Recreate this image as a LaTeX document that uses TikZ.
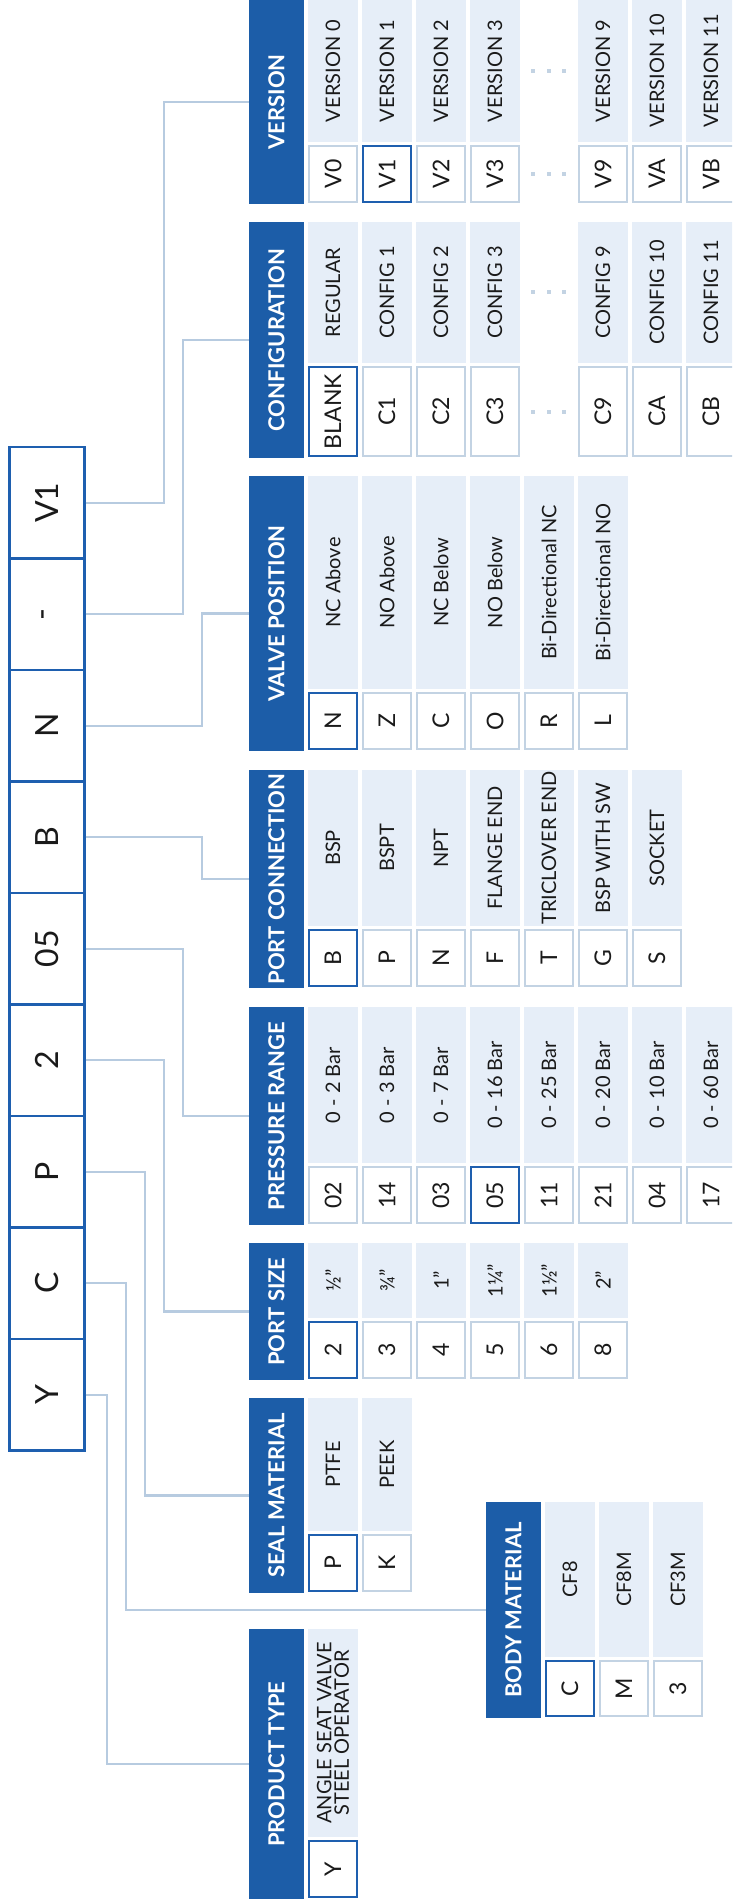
\documentclass[tikz,border=0pt]{standalone}
\usepackage{fontspec}
\setmainfont{Lato}
\usepackage{graphicx}

\definecolor{headblue}{HTML}{1C5DA8}
\definecolor{cellblue}{HTML}{E6EEF8}
\definecolor{boxgrey}{HTML}{C3D3E3}
\definecolor{pickblue}{HTML}{1E5FAF}
\definecolor{linkblue}{HTML}{B7CBE0}
\definecolor{txtdark}{HTML}{1A1A1A}

\newcommand\vtext[1]{\rotatebox{90}{#1}}

\tikzset{
	headbox/.style={fill=headblue, text=white, inner sep=0pt,
		font=\fontsize{22}{24}\selectfont\bfseries},
	descbox/.style={fill=cellblue, text=txtdark, inner sep=0pt,
		font=\fontsize{20}{22}\selectfont},
	codebox/.style={draw=boxgrey, line width=2pt, fill=white, text=txtdark,
		inner sep=0pt, font=\fontsize{23}{25}\selectfont},
	pickbox/.style={codebox, draw=pickblue},
	mainbox/.style={draw=pickblue, line width=2.5pt, text=txtdark, inner sep=0pt,
		minimum width=75pt, minimum height=111.5pt, font=\fontsize{32}{34}\selectfont},
	linkline/.style={draw=linkblue, line width=2.2pt},
}

% name, header x, top, split, bottom, title, items
\newcommand\codetable[7]{%
	\node[headbox, minimum width=55pt, minimum height={(#5-#3)*1pt}] (#1)
		at ({#2+27.5},{(#3+#5)/2}) {\vtext{#6}};
	\foreach \i/\c/\d/\s in {#7}{%
		\node[descbox, minimum width=50pt, minimum height={(#4-1-#3)*1pt}] (#1-d\i)
			at ({#2+84+54*\i},{(#3+#4-1)/2}) {\vtext{\d}};
		\node[\s, minimum width=48pt, minimum height={(#5-#4-5)*1pt}] (#1-c\i)
			at ({#2+84+54*\i},{(#4+#5+1)/2}) {\vtext{\c}};
	}%
}

\begin{document}
\begin{tikzpicture}[x=1pt,y=-1pt]
	\clip (0,0) rectangle (732,1902);
	% ordering code
	\foreach \t [count=\k] in {V1,-,N,B,05,2,P,C,Y}
		\node[mainbox] (m\k) at (46.75,{447+111.5*(\k-0.5)}) {\vtext{\t}};
	% tables
	\codetable{ver}{249}{0}{143}{204}{VERSION}{0/V0/VERSION 0/codebox, 1/V1/VERSION 1/pickbox,
		2/V2/VERSION 2/codebox, 3/V3/VERSION 3/codebox, 5/V9/VERSION 9/codebox,
		6/VA/VERSION 10/codebox, 7/VB/VERSION 11/codebox}
	\codetable{conf}{249}{222}{364}{458}{CONFIGURATION}{0/BLANK/REGULAR/pickbox,
		1/C1/CONFIG 1/codebox, 2/C2/CONFIG 2/codebox, 3/C3/CONFIG 3/codebox,
		5/C9/CONFIG 9/codebox, 6/CA/CONFIG 10/codebox, 7/CB/CONFIG 11/codebox}
	\codetable{valve}{249}{476}{690}{751}{VALVE POSITION}{0/N/NC Above/pickbox,
		1/Z/NO Above/codebox, 2/C/NC Below/codebox, 3/O/NO Below/codebox,
		4/R/Bi-Directional NC/codebox, 5/L/Bi-Directional NO/codebox}
	\codetable{conn}{249}{770}{927}{988}{PORT CONNECTION}{0/B/BSP/pickbox,
		1/P/BSPT/codebox, 2/N/NPT/codebox, 3/F/FLANGE END/codebox,
		4/T/TRICLOVER END/codebox, 5/G/BSP WITH SW/codebox, 6/S/SOCKET/codebox}
	\codetable{press}{249}{1007}{1164}{1225}{PRESSURE RANGE}{0/02/0 - 2 Bar/codebox,
		1/14/0 - 3 Bar/codebox, 2/03/0 - 7 Bar/codebox, 3/05/0 - 16 Bar/pickbox,
		4/11/0 - 25 Bar/codebox, 5/21/0 - 20 Bar/codebox, 6/04/0 - 10 Bar/codebox,
		7/17/0 - 60 Bar/codebox}
	\codetable{psize}{249}{1243}{1319}{1380}{PORT SIZE}{0/2/½”/pickbox, 1/3/¾”/codebox,
		2/4/1”/codebox, 3/5/1¼”/codebox, 4/6/1½”/codebox, 5/8/2”/codebox}
	\codetable{seal}{249}{1398}{1532}{1593}{SEAL MATERIAL}{0/P/PTFE/pickbox, 1/K/PEEK/codebox}
	\codetable{body}{486}{1502}{1658}{1718}{BODY MATERIAL}{0/C/CF8/pickbox,
		1/M/CF8M/codebox, 2/3/CF3M/codebox}
	\codetable{prod}{249}{1629}{1838}{1899}{PRODUCT TYPE}{%
		0/Y/{\shortstack{ANGLE SEAT VALVE\\STEEL OPERATOR}}/pickbox}
	% skipped columns
	\foreach \yy in {71,174,292,412}
		\foreach \xx in {533,549,564}
			\fill[boxgrey] ({\xx-2.25},{\yy-2.25}) rectangle ++(4.5,4.5);
	% connectors
	\foreach \k/\h/\bx in {1/ver/164, 2/conf/183, 3/valve/202, 4/conn/202, 5/press/183,
		6/psize/164, 7/seal/145, 8/body/126, 9/prod/107}
		\draw[linkline] (m\k.east) -- ++({\bx-85.5},0) |- (\h.west);
\end{tikzpicture}
\end{document}
